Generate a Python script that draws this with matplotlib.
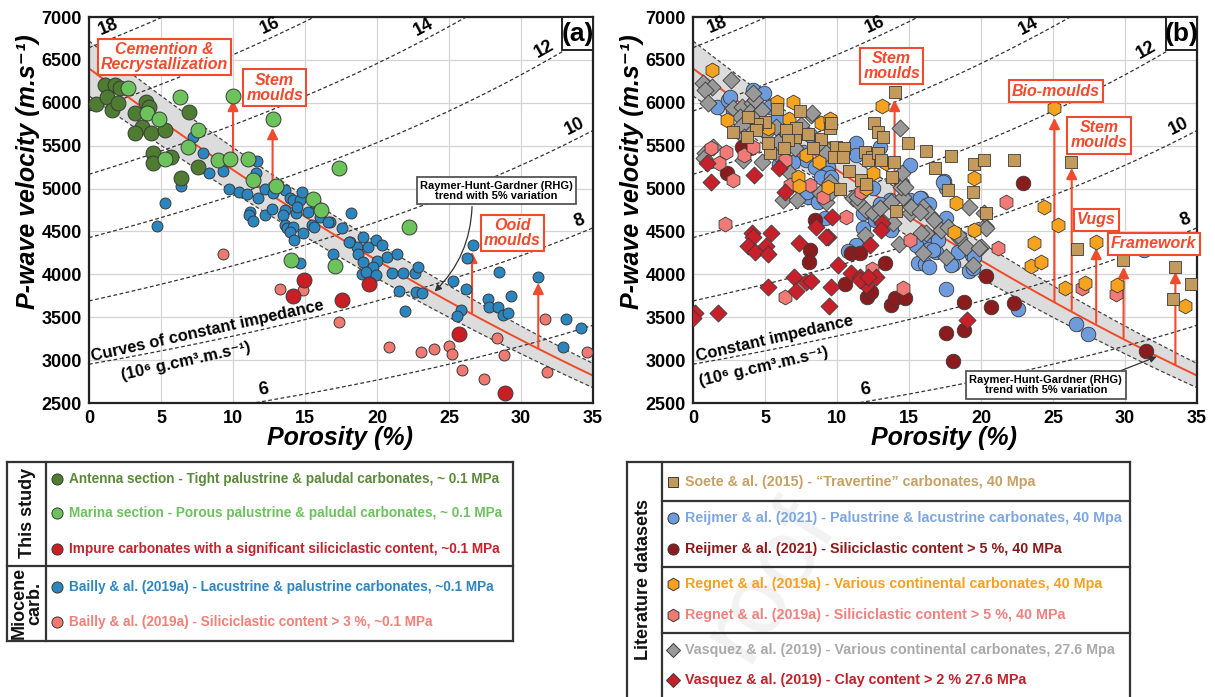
import numpy as np
import matplotlib
matplotlib.use('Agg')
import matplotlib.pyplot as plt
from matplotlib.patches import Rectangle
from matplotlib.lines import Line2D

FONT = ['Liberation Sans', 'DejaVu Sans']
plt.rcParams['font.family'] = FONT
plt.rcParams['font.weight'] = 'bold'

# ---------------- data: panel (a) ----------------
antenna_phi = [0.46, 1.11, 1.81, 2.15, 1.23, 1.62, 2.03, 3.19, 3.94, 4.17, 3.66, 4.28, 3.19,
               5.30, 4.47, 4.42, 5.67, 6.37, 7.55, 6.94]
antenna_vp = [5982, 6207, 6207, 6169, 6071, 5916, 5994, 5885, 6013, 5954, 5721, 5644, 5644,
              5683, 5411, 5301, 5371, 5120, 5255, 5896]

marina_phi = [2.73, 6.32, 4.0, 4.88, 7.59, 6.9, 5.28, 8.98, 9.79, 11.06, 11.4, 10.0, 12.75, 13.0,
              15.58, 16.1, 17.36, 22.2, 14.0, 17.1]
marina_vp = [6169, 6071, 5877, 5807, 5683, 5488, 5341, 5333, 5341, 5341, 5100, 6083, 5807, 5033,
             4874, 4750, 5236, 4556, 4167, 4101]

impure_phi = [14.93, 14.19, 19.44, 17.55, 25.7, 28.9]
impure_vp = [3934, 3747, 3887, 3701, 3305, 2620]

bailly_lac_phi = [7.24, 7.94, 8.36, 9.28, 6.4, 5.28, 4.74, 9.72, 10.44, 10.95, 11.71, 11.69, 11.6,
                  11.18, 11.09, 11.41, 12.22, 12.22, 12.69, 12.8, 13.6, 13.96, 14.19, 14.65, 14.77,
                  13.6, 13.5, 14.35, 15.23, 13.6, 13.73, 14.14, 13.96, 14.24, 14.84, 15.5, 15.63,
                  16.74, 18.19, 17.59, 18.13, 18.59, 19.05, 19.4, 18.7, 19.05, 19.93, 20.37, 20.67,
                  19.98, 19.75, 18.94, 19.24, 19.91, 21.41, 21.06, 21.78, 22.64, 22.82, 21.55, 22.69,
                  23.1, 21.94, 16.92, 14.65, 15.7, 16.04, 16.6, 18.08, 14.42,
                  26.69, 26.23, 25.3, 26.18, 25.8, 25.53, 28.49, 27.73, 27.78, 28.42, 28.77, 29.1,
                  29.3, 31.2, 33.1, 34.17, 32.9]
bailly_lac_vp = [5605, 5418, 5178, 5205, 5030, 4835, 4567, 4995, 4963, 4937, 4886, 5325, 5178,
                 4723, 4692, 4622, 4995, 4692, 4762, 4945, 4983, 4886, 4867, 4867, 4956,
                 4750, 4692, 4712, 4731, 4575, 4537, 4556, 4497, 4400, 4485, 4575, 4556,
                 4607, 4719, 4537, 4374, 4323, 4432, 4315, 4234, 4148, 4400, 4342, 4206,
                 4159, 4089, 4000, 4031, 3992, 4234, 4019, 4019, 4012, 4082, 3809, 3798,
                 3786, 3573, 4237, 4129, 4828, 4672, 4614, 4380, 4790,
                 4342, 4187, 3922, 3826, 3584, 3514, 4031, 3709, 3623, 3623, 3526, 3546,
                 3748, 3973, 3479, 3378, 3149]

bailly_sil_phi = [9.28, 13.26, 14.84, 17.36, 20.83, 23.03, 23.96, 25.0, 25.2, 25.9, 27.4, 28.35,
                  28.8, 31.7, 31.8, 34.56]
bailly_sil_vp = [4237, 3829, 3817, 3448, 3149, 3091, 3130, 3165, 3071, 2881, 2776, 3254,
                 3060, 3479, 2865, 3091]

# ---------------- data: panel (b) ----------------
soete_phi = [14.0, 12.6, 12.85, 13.2, 14.9, 16.15, 16.84, 17.93, 19.54, 20.24, 17.69, 19.43, 20.35,
             11.92, 12.45, 12.15, 12.87, 13.08, 13.93, 13.84, 11.69, 11.99, 10.83, 9.91, 10.46,
             9.77, 10.42, 10.24, 14.12, 8.92, 9.49, 9.56, 7.99, 8.34, 7.07, 7.14, 6.49, 6.6, 6.33,
             5.34, 5.22, 4.99, 4.41, 4.37, 3.83, 3.76, 2.75, 5.84, 7.41, 22.27, 26.24, 26.7,
             29.87, 33.47, 34.56, 33.35]
soete_vp = [6120, 5760, 5665, 5605, 5535, 5438, 5236, 5380, 5286, 5333, 4983, 4963, 4712,
            5430, 5371, 5333, 5418, 5333, 5313, 5139, 5100, 5053, 5208, 5481, 5469,
            5371, 5364, 4991, 4739, 5578, 5702, 5761, 5636, 5469, 5597, 5702, 5683, 5566, 5469,
            5411, 5528, 5779, 5753, 5683, 5838, 5605, 5663, 5924, 5908, 5333, 5306, 4292,
            4167, 4089, 3887, 3713]

reijmer_pal_phi = [4.18, 4.92, 1.64, 2.45, 2.79, 4.23, 4.53, 5.8, 6.72, 6.26, 7.64, 7.88, 6.95, 5.98,
                   8.45, 9.38, 9.49, 11.34, 11.34, 12.96, 15.04, 13.65, 12.5, 15.04, 11.8, 9.15,
                   7.3, 9.27, 2.56, 5.34, 17.46, 17.58, 15.85, 13.0, 11.8, 13.74, 12.61, 11.34,
                   10.76, 9.38, 8.92, 9.61, 7.99, 7.92, 8.68, 16.08, 16.42, 16.89, 17.0, 15.61,
                   16.08, 16.42, 18.04, 19.38, 19.15, 19.43, 17.58, 7.41, 8.11, 17.35, 15.73,
                   16.42, 17.58, 15.5, 16.65, 17.93, 18.39, 19.54, 22.55, 26.59, 27.46, 31.32]
reijmer_pal_vp = [6149, 6110, 5954, 6032, 5916, 5954, 5877, 5799, 5721, 5566, 5430, 5333, 5313, 5286,
                  5255, 5255, 5120, 5528, 5391, 5488, 5275, 4867, 5003, 4867, 4712, 4653,
                  5042, 4983, 6071, 5954, 5092, 5003, 4886, 4820, 4537, 4517, 4634, 4342,
                  4272, 5185, 5139, 5139, 4905, 4963, 4847, 4362, 4292, 4264, 4400, 4136,
                  4120, 4089, 4120, 4225, 4042, 4070, 3826, 5663, 5624, 5080, 4886,
                  4820, 4653, 4342, 4284, 4108, 4264, 4206, 3592, 3421, 3300, 4284]

reijmer_sil_phi = [2.33, 3.37, 3.9, 8.47, 8.11, 8.06, 10.95, 11.57, 10.53, 12.08, 12.38, 13.34,
                   13.77, 14.0, 14.69, 17.58, 18.85, 20.7, 20.35, 18.04, 18.85, 22.31, 31.44, 22.94]
reijmer_sil_vp = [5178, 5488, 5470, 4633, 4284, 4148, 4252, 4245, 3884, 3739, 3798, 4136,
                  3642, 3720, 3720, 3320, 3681, 3623, 3980, 2994, 3352, 3662, 3110, 5068]

regnet_cont_phi = [1.3, 2.33, 5.22, 5.8, 6.91, 6.68, 8.92, 9.49, 7.83, 8.75, 7.3, 7.36, 9.38, 11.99,
                   12.5, 13.42, 13.14, 19.54, 18.27, 18.1, 19.5, 25.09, 24.39, 25.38, 23.7, 23.47,
                   24.16, 25.85, 27.23, 27.98, 29.47, 34.14]
regnet_cont_vp = [6382, 5799, 5702, 6013, 6013, 5807, 5761, 5807, 5391, 5313, 5139, 5030, 5022, 5003,
                  5185, 5294, 5962, 5120, 4835, 4497, 4520, 5936, 4781, 4575, 4369, 4101,
                  4140, 3837, 3903, 4381, 3876, 3635]

regnet_sil_phi = [1.23, 2.29, 1.82, 3.56, 4.14, 2.79, 6.38, 6.72, 8.11, 9.03, 10.6, 11.69, 2.22,
                  6.38, 12.45, 14.57, 15.04, 21.16, 21.74, 27.0, 29.36]
regnet_sil_vp = [5469, 5430, 5294, 5391, 5488, 5100, 5333, 5042, 5042, 4905, 4672, 4963, 4587,
                 3732, 4058, 3837, 4400, 4303, 4847, 3837, 3771]

vasquez_cont_phi = [0.72, 1.3, 0.83, 2.61, 1.06, 2.79, 3.37, 3.26, 4.07, 4.3, 3.95, 4.41, 4.76, 3.9,
                    7.53, 8.18, 0.83, 1.41, 0.76, 3.72, 4.76, 5.75, 6.72, 6.26, 7.19, 9.27, 9.49,
                    11.11, 11.46, 12.04, 12.5, 13.08, 13.88, 14.35, 14.41, 14.57, 15.04, 8.8, 9.61,
                    4.18, 3.37, 3.53, 5.1, 5.75, 5.91, 6.95, 7.07, 8.29, 9.08, 9.27, 3.49, 11.41,
                    11.92, 12.96, 13.77, 14.35, 14.46, 15.96, 16.42, 16.77, 17.23, 17.69, 16.2,
                    18.5, 15.96, 17.58, 19.2, 20.3, 20.0, 19.43, 14.3, 15.85, 18.39, 18.97, 19.89,
                    20.35, 14.53, 14.69, 15.16, 15.73, 20.24]
vasquez_cont_vp = [6227, 6188, 6149, 6266, 5994, 5936, 5954, 5838, 5994, 6032, 5896, 5857, 5916, 5721,
                   5741, 5858, 5411, 5488, 5353, 5450, 5313, 5411, 5178, 4867, 4867, 4847, 5080,
                   4886, 4847, 4750, 4712, 4633, 4595, 5702, 5080, 4905, 4712, 4944, 4963,
                   6110, 5741, 5605, 5644, 5721, 5547, 5566, 5469, 5877, 5488, 5411, 5333, 4905,
                   4459, 4770, 4847, 5100, 5022, 4789, 4703, 4633, 4517, 4556, 4478,
                   4420, 4245, 4206, 4789, 4567, 4322, 4108, 4354, 4478, 4459, 4322, 4303,
                   4536, 5178, 5022, 4789, 4730, 4712]

vasquez_clay_phi = [0.14, 0.02, 1.75, 4.07, 4.18, 5.45, 3.83, 4.34, 5.1, 5.22, 7.35, 9.38, 7.02, 7.18,
                    5.22, 7.88, 8.22, 9.61, 9.45, 10.07, 10.99, 11.62, 12.04, 12.73, 12.31, 8.52,
                    0.95, 1.23, 4.23, 5.98, 6.38, 9.68, 13.14, 9.27, 13.08, 11.57, 12.15, 19.0]
vasquez_clay_vp = [3553, 3487, 3553, 4478, 4439, 4478, 4330, 4264, 4330, 4234, 4362, 4439, 3965, 3809,
                   3849, 3914, 3926, 3856, 3634, 4109, 4012, 3965, 3876, 3965, 4342, 4556,
                   5294, 5080, 5158, 5236, 4963, 4672, 4595, 4431, 4517, 3934, 3973, 3468]

impedance_levels = [6, 8, 10, 12, 14, 16, 18]
label_phi_a = [12.2, 34.3, 34.0, 31.9, 23.5, 12.8, 1.6]
label_phi_b = [12.1, 34.4, 34.0, 31.8, 23.6, 12.9, 1.9]
x_ticks = [0, 5, 10, 15, 20, 25, 30, 35]
y_ticks = [2500, 3000, 3500, 4000, 4500, 5000, 5500, 6000, 6500, 7000]

RHO_GRAIN = 2.71
V_MATRIX, V_FLUID = 6400.0, 330.0

# ---------------- styles ----------------
RED_ANN = '#f24a2c'
C_ANT, C_MAR, C_IMP = '#4e7c30', '#6cc35c', '#c81e24'
C_BLUE, C_SAL = '#2b86bf', '#f07a72'
C_TAN, C_LBLUE, C_DRED = '#c49a5c', '#6e9bdc', '#8a1c1e'
C_ORANGE, C_SAL2, C_GRAY, C_RED2 = '#f5a21e', '#f27a76', '#999999', '#c8202a'
EC = '#3a3a3a'

W, H = 1215, 697
fig = plt.figure(figsize=(W / 100, H / 100), dpi=100)
ax_a = fig.add_axes([89 / W, 1 - 403 / H, 504 / W, 386 / H])
ax_b = fig.add_axes([693 / W, 1 - 403 / H, 504 / W, 386 / H])

phi_grid = np.linspace(0, 35, 300)


def base_axes(ax, label_phis, panel):
    ax.set_xlim(0, 35)
    ax.set_ylim(2500, 7000)
    ax.set_xticks(x_ticks)
    ax.set_yticks(y_ticks)
    ax.grid(True, color='#d4d4d4', lw=0.9, zorder=0)
    ax.set_axisbelow(True)
    for s in ax.spines.values():
        s.set_linewidth(1.6)
        s.set_color('#222222')
    ax.tick_params(length=0, pad=5, labelsize=13)
    for t in ax.get_xticklabels() + ax.get_yticklabels():
        t.set_fontweight('bold')
    # RHG band
    rhg = (1 - phi_grid / 100) ** 2 * V_MATRIX + phi_grid / 100 * V_FLUID
    ax.fill_between(phi_grid, rhg * 0.95, rhg * 1.05, color='#dcdcdc', zorder=1, lw=0)
    ax.plot(phi_grid, rhg * 1.05, ls=(0, (3, 2)), color='#444444', lw=0.9, zorder=1.5)
    ax.plot(phi_grid, rhg * 0.95, ls=(0, (3, 2)), color='#444444', lw=0.9, zorder=1.5)
    ax.plot(phi_grid, rhg, color='#f04a28', lw=1.4, zorder=1.6)
    # impedance curves
    fig.canvas.draw()
    for z, lp in zip(impedance_levels, label_phis):
        v = z * 1000 / (RHO_GRAIN * (1 - phi_grid / 100))
        ax.plot(phi_grid, v, ls=(0, (3, 2)), color='#333333', lw=0.9, zorder=1.5)
        vl = z * 1000 / (RHO_GRAIN * (1 - lp / 100))
        p1 = ax.transData.transform((lp - 0.5, z * 1000 / (RHO_GRAIN * (1 - (lp - 0.5) / 100))))
        p2 = ax.transData.transform((lp + 0.5, z * 1000 / (RHO_GRAIN * (1 - (lp + 0.5) / 100))))
        ang = np.degrees(np.arctan2(p2[1] - p1[1], p2[0] - p1[0]))
        ax.text(lp, vl + 40, str(z), rotation=ang, rotation_mode='anchor', ha='center',
                va='bottom', fontsize=13, fontweight='bold', zorder=6)
    # panel label
    ax.add_patch(Rectangle((0.9385, 0.9155), 0.0615, 0.0845, transform=ax.transAxes,
                           fc='white', ec='#222222', lw=1.4, zorder=8))
    ax.text(0.969, 0.955, panel, transform=ax.transAxes, ha='center', va='center',
            fontsize=19, fontweight='bold', zorder=9)
    ax.set_xlabel('Porosity (%)', fontsize=18, fontweight='bold', fontstyle='italic')
    ax.xaxis.set_label_coords(0.498, -0.06)
    ax.set_ylabel('P-wave velocity (m.s⁻¹)', fontsize=18, fontweight='bold', fontstyle='italic')
    ax.yaxis.set_label_coords(-0.097, 0.6)


def red_box(ax, x, y, txt, fs=11.5):
    ax.text(x, y, txt, ha='center', va='center', color=RED_ANN, fontsize=fs,
            fontweight='bold', fontstyle='italic', linespacing=1.0, zorder=10,
            bbox=dict(boxstyle='square,pad=0.2', fc='white', ec=RED_ANN, lw=1.5))


def red_arrow(ax, x, y0, y1):
    ax.annotate('', xy=(x, y1), xytext=(x, y0), zorder=3,
                arrowprops=dict(arrowstyle='-|>', color=RED_ANN, lw=1.5,
                                mutation_scale=16, shrinkA=0, shrinkB=0))


def rhg_box(ax, x, y):
    ax.text(x, y, 'Raymer-Hunt-Gardner (RHG)\ntrend with 5% variation', ha='center',
            va='center', fontsize=8, fontweight='bold', linespacing=1.05, zorder=10,
            bbox=dict(boxstyle='square,pad=0.3', fc='white', ec='#555555', lw=1.3))


# ---------------- panel (a) ----------------
base_axes(ax_a, label_phi_a, '(a)')
ax_a.scatter(bailly_lac_phi, bailly_lac_vp, s=62, c=C_BLUE, edgecolors=EC, linewidths=0.7, zorder=4)
ax_a.scatter(bailly_sil_phi, bailly_sil_vp, s=62, c=C_SAL, edgecolors=EC, linewidths=0.7, zorder=4)
ax_a.scatter(antenna_phi, antenna_vp, s=115, c=C_ANT, edgecolors=EC, linewidths=0.7, zorder=5)
ax_a.scatter(marina_phi, marina_vp, s=115, c=C_MAR, edgecolors=EC, linewidths=0.7, zorder=5)
ax_a.scatter(impure_phi, impure_vp, s=115, c=C_IMP, edgecolors=EC, linewidths=0.7, zorder=5)

red_box(ax_a, 5.24, 6534, 'Cemention &\nRecrystallization')
red_box(ax_a, 12.9, 6178, 'Stem\nmoulds')
red_box(ax_a, 29.4, 4480, 'Ooid\nmoulds')
red_arrow(ax_a, 10.0, 5356, 6033)
red_arrow(ax_a, 12.75, 5042, 5706)
red_arrow(ax_a, 26.6, 3550, 4262)
red_arrow(ax_a, 31.2, 3140, 3900)
rhg_box(ax_a, 28.3, 4972)
ax_a.annotate('', xy=(24.0, 3800), xytext=(26.6, 4790), zorder=9,
              arrowprops=dict(arrowstyle='-|>', color='#333333', lw=0.9, mutation_scale=10,
                              connectionstyle='arc3,rad=-0.2', shrinkA=0, shrinkB=0))
ax_a.text(0.2, 2985, 'Curves of constant impedance', rotation=12.5, rotation_mode='anchor',
          ha='left', va='baseline', fontsize=11.8, fontweight='bold', zorder=6)
ax_a.text(2.3, 2770, '(10⁶ g.cm³.m.s⁻¹)', rotation=12.5, rotation_mode='anchor',
          ha='left', va='baseline', fontsize=11.8, fontweight='bold', zorder=6)

# ---------------- panel (b) ----------------
base_axes(ax_b, label_phi_b, '(b)')
ax_b.scatter(reijmer_pal_phi, reijmer_pal_vp, s=110, c=C_LBLUE, edgecolors=EC, linewidths=0.6, zorder=4)
ax_b.scatter(vasquez_cont_phi, vasquez_cont_vp, s=75, marker='D', c=C_GRAY, edgecolors=EC, linewidths=0.6, zorder=4)
ax_b.scatter(reijmer_sil_phi, reijmer_sil_vp, s=110, c=C_DRED, edgecolors=EC, linewidths=0.6, zorder=4)
ax_b.scatter(regnet_sil_phi, regnet_sil_vp, s=115, marker='h', c=C_SAL2, edgecolors=EC, linewidths=0.6, zorder=4)
ax_b.scatter(vasquez_clay_phi, vasquez_clay_vp, s=75, marker='D', c=C_RED2, edgecolors=EC, linewidths=0.6, zorder=4)
ax_b.scatter(regnet_cont_phi, regnet_cont_vp, s=115, marker='h', c=C_ORANGE, edgecolors=EC, linewidths=0.6, zorder=5)
ax_b.scatter(soete_phi, soete_vp, s=80, marker='s', c=C_TAN, edgecolors=EC, linewidths=0.6, zorder=5)

red_box(ax_b, 13.8, 6430, 'Stem\nmoulds')
red_box(ax_b, 25.2, 6137, 'Bio-moulds')
red_box(ax_b, 28.2, 5619, 'Stem\nmoulds')
red_box(ax_b, 28.0, 4634, 'Vugs')
red_box(ax_b, 32.0, 4354, 'Framework')
red_arrow(ax_b, 14.0, 4902, 6033)
red_arrow(ax_b, 25.1, 3677, 5823)
red_arrow(ax_b, 26.3, 3585, 5240)
red_arrow(ax_b, 28.0, 3433, 4307)
red_arrow(ax_b, 29.9, 3258, 4085)
red_arrow(ax_b, 33.5, 2943, 4028)
rhg_box(ax_b, 24.5, 2710)
ax_b.annotate('', xy=(32.2, 3040), xytext=(29.6, 2870), zorder=9,
              arrowprops=dict(arrowstyle='-|>', color='#333333', lw=0.9, mutation_scale=10,
                              shrinkA=0, shrinkB=0))
ax_b.text(0.3, 2985, 'Constant impedance', rotation=13, rotation_mode='anchor',
          ha='left', va='baseline', fontsize=11.8, fontweight='bold', zorder=6)
ax_b.text(0.5, 2700, '(10⁶ g.cm³.m.s⁻¹)', rotation=13, rotation_mode='anchor',
          ha='left', va='baseline', fontsize=11.8, fontweight='bold', zorder=6)


# ---------------- legends ----------------
def F(px, py):
    return px / W, 1 - py / H


def fline(x1, y1, x2, y2, lw=1.6):
    a, b = F(x1, y1)
    c, d = F(x2, y2)
    fig.add_artist(Line2D([a, c], [b, d], transform=fig.transFigure, color='#333333', lw=lw))


def fmark(px, py, marker, color, ms):
    a, b = F(px, py)
    fig.add_artist(Line2D([a], [b], marker=marker, ms=ms, mfc=color, mec=EC, mew=0.7,
                          ls='none', transform=fig.transFigure))


def ftext(px, py, txt, color, fs=9.8, **kw):
    a, b = F(px, py)
    fig.text(a, b, txt, color=color, fontsize=fs, fontweight='bold', va='center', **kw)


# watermark (faint)
fig.text(770 / W, 1 - 580 / H, 'roof', rotation=58, fontsize=70, color='#f2f2f2',
         ha='center', va='center', fontweight='normal', zorder=0)

# left legend
fline(7, 462, 513, 462); fline(7, 641, 513, 641); fline(7, 462, 7, 641); fline(513, 462, 513, 641)
fline(46, 462, 46, 641); fline(7, 566, 513, 566)
ftext(27, 513, 'This study', '#111111', fs=13, rotation=90, ha='center')
ftext(27, 603, 'Miocene\ncarb.', '#111111', fs=13, rotation=90, ha='center', linespacing=0.95)
left_entries = [
    (479, C_ANT, '#5a8a3a', 'Antenna section - Tight palustrine & paludal carbonates, ~ 0.1 MPa'),
    (513, C_MAR, '#6fc060', 'Marina section - Porous palustrine & paludal carbonates, ~ 0.1 MPa'),
    (549, C_IMP, '#c0242c', 'Impure carbonates with a significant siliciclastic content, ~0.1 MPa'),
    (587, C_BLUE, '#2e86c1', 'Bailly & al. (2019a) - Lacustrine & palustrine carbonates, ~0.1 MPa'),
    (622, C_SAL, '#f08078', 'Bailly & al. (2019a) - Siliciclastic content > 3 %, ~0.1 MPa'),
]
for py, mc, tc, txt in left_entries:
    fmark(57, py, 'o', mc, 8)
    ftext(69, py, txt, tc)

# right legend
fline(627, 462, 1130, 462); fline(627, 462, 627, 700); fline(1130, 462, 1130, 700)
fline(662, 462, 662, 700)
for yy in (501, 567, 633):
    fline(662, yy, 1130, yy)
ftext(643, 580, 'Literature datasets', '#111111', fs=13, rotation=90, ha='center')
right_entries = [
    (482, 's', C_TAN, '#c8a064', 'Soete & al. (2015) - “Travertine” carbonates, 40 Mpa', 7),
    (518, 'o', C_LBLUE, '#7ea6e0', 'Reijmer & al. (2021) - Palustrine & lacustrine carbonates, 40 Mpa', 8),
    (549, 'o', C_DRED, '#8b1a1a', 'Reijmer & al. (2021) - Siliciclastic content > 5 %, 40 MPa', 8),
    (584, 'h', C_ORANGE, '#f5a020', 'Regnet & al. (2019a) - Various continental carbonates, 40 Mpa', 9),
    (615, 'h', C_SAL2, '#f28080', 'Regnet & al. (2019a) - Siliciclastic content > 5 %, 40 MPa', 9),
    (650, 'D', C_GRAY, '#aaaaaa', 'Vasquez & al. (2019) - Various continental carbonates, 27.6 Mpa', 7),
    (680, 'D', C_RED2, '#c0202a', 'Vasquez & al. (2019) - Clay content > 2 % 27.6 MPa', 7),
]
for py, mk, mc, tc, txt, ms in right_entries:
    fmark(673, py, mk, mc, ms)
    ftext(685, py, txt, tc, fs=10.3)

fig.savefig('out.png', dpi=100)
